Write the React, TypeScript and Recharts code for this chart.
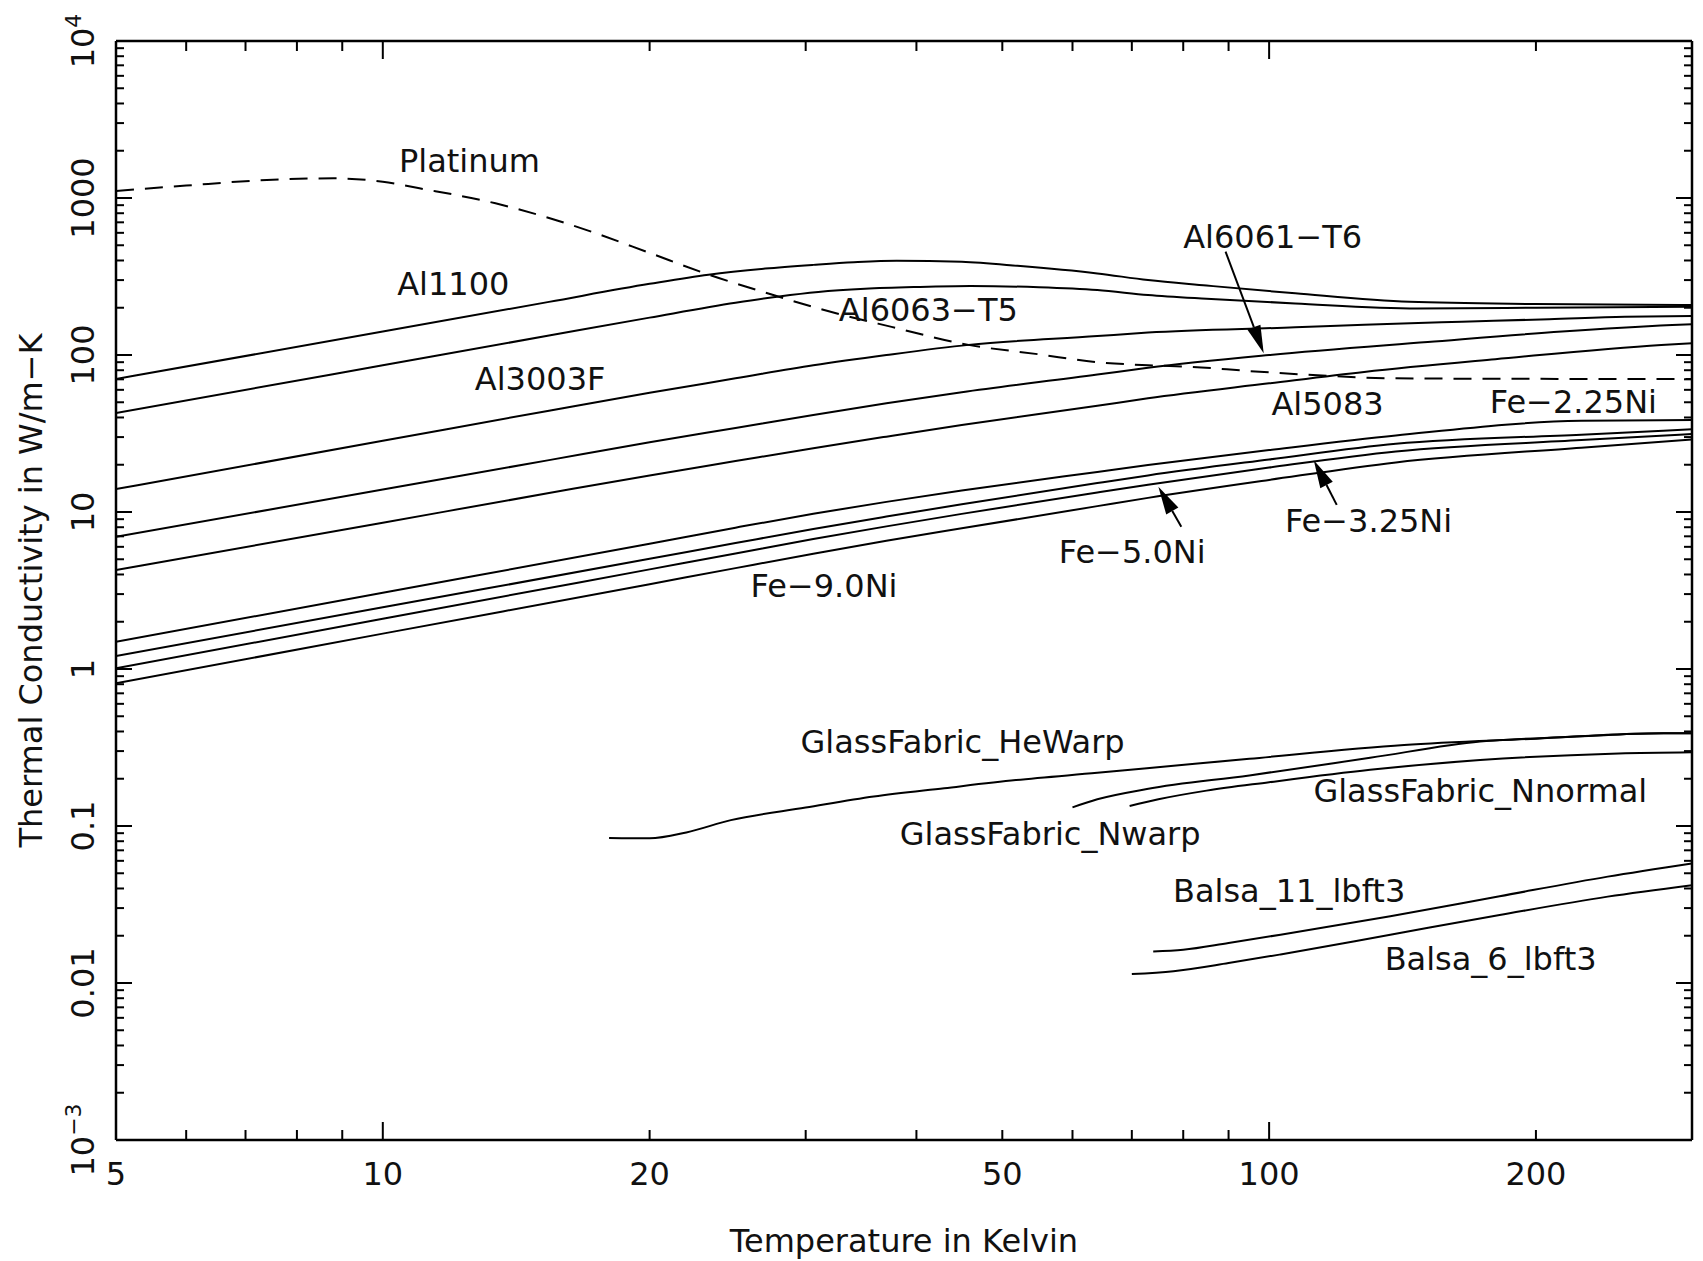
import React from 'react';
import { LineChart, Line, XAxis, YAxis, ReferenceDot, ReferenceLine } from 'recharts';

const FONT = '"DejaVu Sans", "Liberation Sans", sans-serif';
const INK = '#111';

// ---------- data (temperature in K, conductivity in W/m-K) ----------
const platinumT = [5, 6, 7.4, 8.8, 10, 11, 13.4, 15.4, 17.4, 20, 23.4, 27, 31.4, 37.5, 45.8, 55, 64, 73, 82, 95, 110, 139, 200, 300];
const platinumK = [1109, 1200, 1303, 1334, 1270, 1153, 925, 746, 596, 447, 323, 250, 194, 151, 116, 101, 90, 86, 84, 79, 75, 71, 70.5, 70.3];

const al1100T = [5, 10, 15.4, 20, 23.3, 27, 30.6, 34, 38, 45, 52, 64, 73, 85, 107, 144, 200, 300];
const al1100K = [70.3, 141, 218, 284, 325, 355, 375, 390, 399, 392, 370, 331, 300, 277, 247, 218, 211, 208];

const al6063T = [5, 10, 15.4, 20, 25, 28, 31, 35, 40, 46, 55, 64, 73, 85, 107, 147, 200, 300];
const al6063K = [42.7, 86, 133, 173, 215, 236, 252, 264, 271, 275, 270, 259, 241, 228, 213, 198, 200, 203];

const al3003fT = [5, 10, 15.4, 20, 25, 30.6, 37, 45.8, 64, 73, 107, 128, 165, 207, 252, 300];
const al3003fK = [14, 28.4, 44.2, 57.5, 71, 86, 100, 116, 132, 139, 150, 156, 163, 169, 175, 177];

const al6061T = [5, 10, 15.4, 20, 25, 30.6, 37, 45, 64, 73, 100, 151, 214, 285, 300];
const al6061K = [6.95, 13.9, 21.4, 27.8, 34.3, 41.5, 49.2, 58, 75, 83, 100, 121, 141, 155, 157];

const al5083T = [5, 10, 15.4, 20, 25, 30.6, 37, 45, 64, 73, 100, 128, 180, 277, 300];
const al5083K = [4.27, 8.55, 13.2, 17.1, 21.1, 25.5, 30.2, 35.8, 47.5, 53, 66, 78, 94, 116, 119];

const feT = [5, 10, 20, 25, 30.6, 37, 45, 64, 73, 100, 139, 225, 300];
const fe225K = [1.49, 3.06, 6.28, 7.95, 9.75, 11.6, 13.7, 18.0, 19.9, 24.8, 30.7, 38.1, 38.5];
const fe325K = [1.21, 2.47, 5.03, 6.34, 7.8, 9.35, 11.2, 15.3, 17.1, 21.6, 27.2, 31.1, 33.6];
const fe50K = [1.01, 2.09, 4.31, 5.44, 6.72, 8.1, 9.73, 13.3, 14.9, 19.2, 24.3, 28.7, 31.4];
const fe90K = [0.81, 1.68, 3.47, 4.39, 5.42, 6.55, 7.87, 10.9, 12.3, 16.0, 20.7, 25.7, 29.0];

const heWarpT = [18, 20, 22, 24.7, 30, 35.8, 43, 51.8, 64, 72.8, 95, 142, 200, 268, 300];
const heWarpK = [0.084, 0.0835, 0.091, 0.109, 0.131, 0.154, 0.174, 0.196, 0.218, 0.233, 0.268, 0.328, 0.36, 0.389, 0.39];

const nWarpT = [60, 64, 72.8, 95, 130, 173, 220, 268, 300];
const nWarpK = [0.1315, 0.148, 0.172, 0.21, 0.272, 0.345, 0.37, 0.389, 0.39];

const nNormalT = [69.6, 75, 85, 100, 130, 173, 248, 300];
const nNormalK = [0.134, 0.148, 0.168, 0.19, 0.228, 0.263, 0.29, 0.295];

const balsa11T = [74, 80, 90, 103, 137, 182, 241, 300];
const balsa11K = [0.0159, 0.0163, 0.018, 0.0203, 0.0266, 0.0357, 0.0476, 0.0578];

const balsa6T = [70, 78, 90, 103, 137, 182, 241, 300];
const balsa6K = [0.0114, 0.0119, 0.0134, 0.0152, 0.0203, 0.0271, 0.0355, 0.042];

// ---------- axes ----------
const xLabelValues = [5, 10, 20, 50, 100, 200];
const xLabelTexts = ['5', '10', '20', '50', '100', '200'];
const xMajorTicks = [10, 100];
const xMinorTicks = [6, 7, 8, 9, 20, 30, 40, 50, 60, 70, 80, 90, 200];

const yDecades = [0.001, 0.01, 0.1, 1, 10, 100, 1000, 10000];
const yLabelTexts = ['10^\u22123', '0.01', '0.1', '1', '10', '100', '1000', '10^4'];
const yMinorMultipliers = [2, 3, 4, 5, 6, 7, 8, 9];

// ---------- annotations ----------
const curveLabels = [
  { text: 'Platinum', t: 10.43, k: 1465 },
  { text: 'Al1100', t: 10.38, k: 241 },
  { text: 'Al3003F', t: 12.7, k: 59.8 },
  { text: 'Al6063\u2212T5', t: 32.7, k: 164.7 },
  { text: 'Al6061\u2212T6', t: 80.0, k: 480 },
  { text: 'Al5083', t: 100.6, k: 41.5 },
  { text: 'Fe\u22122.25Ni', t: 177.4, k: 42.7 },
  { text: 'Fe\u22123.25Ni', t: 104.2, k: 7.46 },
  { text: 'Fe\u22125.0Ni', t: 57.9, k: 4.73 },
  { text: 'Fe\u22129.0Ni', t: 26.0, k: 2.87 },
  { text: 'GlassFabric_HeWarp', t: 29.6, k: 0.292 },
  { text: 'GlassFabric_Nwarp', t: 38.3, k: 0.0757 },
  { text: 'GlassFabric_Nnormal', t: 112.2, k: 0.142 },
  { text: 'Balsa_11_lbft3', t: 77.9, k: 0.0328 },
  { text: 'Balsa_6_lbft3', t: 135, k: 0.0121 },
];

const arrows = [
  { from: { x: 89.3, y: 455 }, to: { x: 98.6, y: 102.5 } },
  { from: { x: 119.2, y: 11.1 }, to: { x: 112.3, y: 21.4 } },
  { from: { x: 79.6, y: 8.06 }, to: { x: 75.0, y: 14.5 } },
];

const zip = (t: number[], k: number[]) => t.map((x, i) => ({ x, y: k[i] }));

const series = [
  { name: 'Platinum', data: zip(platinumT, platinumK), dash: '18 11' },
  { name: 'Al1100', data: zip(al1100T, al1100K) },
  { name: 'Al6063-T5', data: zip(al6063T, al6063K) },
  { name: 'Al3003F', data: zip(al3003fT, al3003fK) },
  { name: 'Al6061-T6', data: zip(al6061T, al6061K) },
  { name: 'Al5083', data: zip(al5083T, al5083K) },
  { name: 'Fe-2.25Ni', data: zip(feT, fe225K) },
  { name: 'Fe-3.25Ni', data: zip(feT, fe325K) },
  { name: 'Fe-5.0Ni', data: zip(feT, fe50K) },
  { name: 'Fe-9.0Ni', data: zip(feT, fe90K) },
  { name: 'GlassFabric_HeWarp', data: zip(heWarpT, heWarpK) },
  { name: 'GlassFabric_Nwarp', data: zip(nWarpT, nWarpK) },
  { name: 'GlassFabric_Nnormal', data: zip(nNormalT, nNormalK) },
  { name: 'Balsa_11_lbft3', data: zip(balsa11T, balsa11K) },
  { name: 'Balsa_6_lbft3', data: zip(balsa6T, balsa6K) },
];

const near = (a: number, b: number) => Math.abs(a - b) <= Math.abs(b) * 1e-6;
const xTicks = [...xLabelValues, ...xMinorTicks.filter((v) => !xLabelValues.includes(v)), ...xMajorTicks.filter((v) => !xLabelValues.includes(v)), 300];
const yTicks: number[] = [];
yDecades.forEach((d, i) => {
  yTicks.push(d);
  if (i < yDecades.length - 1) yMinorMultipliers.forEach((m) => yTicks.push(m * d));
});

const X_MAJOR_LEN = 18;
const X_MINOR_LEN = 10;
const Y_MAJOR_LEN = 16;
const Y_MINOR_LEN = 8;

const xTickLen = (v: number) => {
  if (xMajorTicks.some((m) => near(v, m))) return X_MAJOR_LEN;
  if (xMinorTicks.some((m) => near(v, m))) return X_MINOR_LEN;
  return 0;
};
const yTickLen = (v: number) => (yDecades.some((d) => near(v, d)) ? Y_MAJOR_LEN : Y_MINOR_LEN);

const textStyle = { fontFamily: FONT, fontSize: 32, fill: INK };

const XTickBottom = (p: any) => {
  const { x, y, payload } = p;
  const v = payload.value;
  const len = xTickLen(v);
  const li = xLabelValues.findIndex((m) => near(v, m));
  return (
    <g>
      {len > 0 && <line x1={x} x2={x} y1={y} y2={y - len} stroke="#000" strokeWidth={2} />}
      {li >= 0 && (
        <text x={x} y={y + 45} textAnchor="middle" {...textStyle}>
          {xLabelTexts[li]}
        </text>
      )}
    </g>
  );
};

const XTickTop = (p: any) => {
  const { x, y, payload } = p;
  const len = xTickLen(payload.value);
  return len > 0 ? <line x1={x} x2={x} y1={y} y2={y + len} stroke="#000" strokeWidth={2} /> : <g />;
};

const renderYLabel = (label: string, x: number, y: number) => {
  const parts = label.split('^');
  return (
    <text transform={`rotate(-90 ${x} ${y})`} x={x} y={y} textAnchor="middle" {...textStyle}>
      {parts[0]}
      {parts.length > 1 && (
        <tspan dy={-13} fontSize={22}>
          {parts[1]}
        </tspan>
      )}
    </text>
  );
};

const YTickLeft = (p: any) => {
  const { x, y, payload } = p;
  const v = payload.value;
  const li = yDecades.findIndex((d) => near(v, d));
  const len = yTickLen(v);
  return (
    <g>
      <line x1={x} x2={x + len} y1={y} y2={y} stroke="#000" strokeWidth={2} />
      {li >= 0 && renderYLabel(yLabelTexts[li], x - 22, y)}
    </g>
  );
};

const YTickRight = (p: any) => {
  const { x, y, payload } = p;
  const len = yTickLen(payload.value);
  return <line x1={x} x2={x - len} y1={y} y2={y} stroke="#000" strokeWidth={2} />;
};

const ArrowShape = (p: any) => {
  const { x1, y1, x2, y2 } = p;
  const ang = Math.atan2(y2 - y1, x2 - x1);
  const L = 28;
  const W = 7;
  const bx = x2 - L * Math.cos(ang);
  const by = y2 - L * Math.sin(ang);
  const nx = -Math.sin(ang) * W;
  const ny = Math.cos(ang) * W;
  return (
    <g>
      <line x1={x1} y1={y1} x2={bx} y2={by} stroke="#000" strokeWidth={2} />
      <polygon points={`${x2},${y2} ${bx + nx},${by + ny} ${bx - nx},${by - ny}`} fill="#000" />
    </g>
  );
};

const axisLineStyle = { stroke: '#000', strokeWidth: 2.5 };

export default function App() {
  return (
    <div style={{ position: 'absolute', left: 0, top: 0, width: 1703, height: 1261, background: '#fff', overflow: 'hidden' }}>
      <LineChart width={1703} height={1261} margin={{ top: 40, right: 10, bottom: 120, left: 115 }}>
        <XAxis
          xAxisId="b"
          dataKey="x"
          type="number"
          scale="log"
          domain={[5, 300]}
          allowDataOverflow
          ticks={xTicks}
          interval={0}
          height={1}
          tickSize={0}
          tickMargin={0}
          tickLine={false}
          axisLine={axisLineStyle}
          tick={(p: any) => <XTickBottom {...p} />}
          label={{
            content: (lp: any) => {
              const vb = lp.viewBox || {};
              return (
                <text x={vb.x + vb.width / 2} y={vb.y + 112} textAnchor="middle" {...textStyle}>
                  Temperature in Kelvin
                </text>
              );
            },
          }}
        />
        <XAxis
          xAxisId="t"
          orientation="top"
          dataKey="x"
          type="number"
          scale="log"
          domain={[5, 300]}
          allowDataOverflow
          ticks={xTicks}
          interval={0}
          height={1}
          tickSize={0}
          tickMargin={0}
          tickLine={false}
          axisLine={axisLineStyle}
          tick={(p: any) => <XTickTop {...p} />}
        />
        <YAxis
          yAxisId="l"
          type="number"
          scale="log"
          domain={[0.001, 10000]}
          allowDataOverflow
          ticks={yTicks}
          interval={0}
          width={1}
          tickSize={0}
          tickMargin={0}
          tickLine={false}
          axisLine={axisLineStyle}
          tick={(p: any) => <YTickLeft {...p} />}
          label={{
            content: (lp: any) => {
              const vb = lp.viewBox || {};
              const cx = vb.x + vb.width - 74;
              const cy = vb.y + vb.height / 2;
              return (
                <text transform={`rotate(-90 ${cx} ${cy})`} x={cx} y={cy} textAnchor="middle" {...textStyle}>
                  Thermal Conductivity in W/m{'\u2212'}K
                </text>
              );
            },
          }}
        />
        <YAxis
          yAxisId="r"
          orientation="right"
          type="number"
          scale="log"
          domain={[0.001, 10000]}
          allowDataOverflow
          ticks={yTicks}
          interval={0}
          width={1}
          tickSize={0}
          tickMargin={0}
          tickLine={false}
          axisLine={axisLineStyle}
          tick={(p: any) => <YTickRight {...p} />}
        />
        {series.map((s) => (
          <Line
            key={s.name}
            xAxisId="b"
            yAxisId="l"
            data={s.data}
            dataKey="y"
            name={s.name}
            type="monotone"
            stroke="#000"
            strokeWidth={2}
            strokeDasharray={s.dash}
            dot={false}
            activeDot={false}
            isAnimationActive={false}
          />
        ))}
        {arrows.map((a, i) => (
          <ReferenceLine
            key={'arrow' + i}
            xAxisId="b"
            yAxisId="l"
            segment={[a.from, a.to]}
            ifOverflow="visible"
            shape={(p: any) => <ArrowShape {...p} />}
          />
        ))}
        {curveLabels.map((l) => (
          <ReferenceDot
            key={l.text}
            xAxisId="b"
            yAxisId="l"
            x={l.t}
            y={l.k}
            r={1}
            ifOverflow="visible"
            shape={(p: any) => (
              <text x={p.cx} y={p.cy} textAnchor="start" {...textStyle}>
                {l.text}
              </text>
            )}
          />
        ))}
      </LineChart>
    </div>
  );
}
